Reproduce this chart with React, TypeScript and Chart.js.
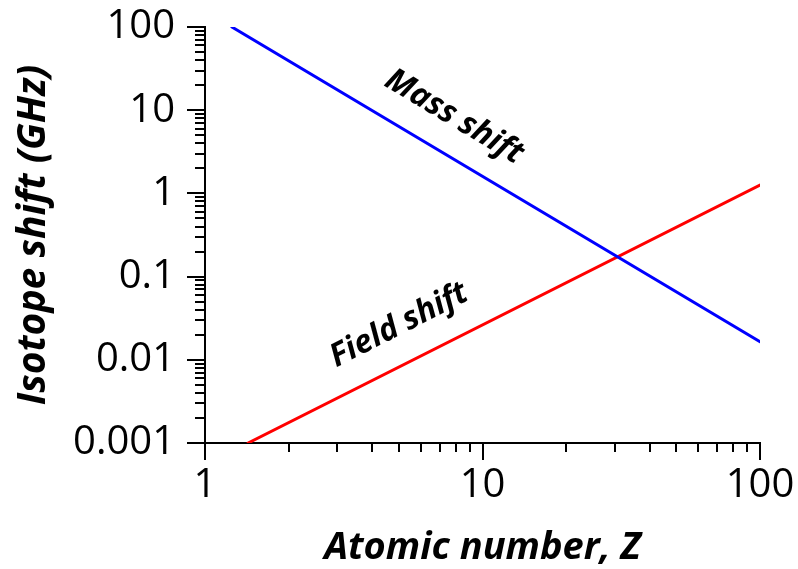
import React, { useEffect, useRef } from "react";
import { Chart, registerables } from "chart.js";

Chart.register(...registerables);

// ---- data ----
const massShiftZ = [1.25, 100];
const massShiftGHz = [100, 0.0165];
const fieldShiftZ = [1.43, 100];
const fieldShiftGHz = [0.001, 1.26];

const xTickValues = [1, 2, 3, 4, 5, 6, 7, 8, 9, 10, 20, 30, 40, 50, 60, 70, 80, 90, 100];
const xMajorTicks = [1, 10, 100];
const xTickLabels = ["1", "10", "100"];

const yTickValues = [
  0.001, 0.002, 0.003, 0.004, 0.005, 0.006, 0.007, 0.008, 0.009,
  0.01, 0.02, 0.03, 0.04, 0.05, 0.06, 0.07, 0.08, 0.09,
  0.1, 0.2, 0.3, 0.4, 0.5, 0.6, 0.7, 0.8, 0.9,
  1, 2, 3, 4, 5, 6, 7, 8, 9,
  10, 20, 30, 40, 50, 60, 70, 80, 90, 100,
];
const yMajorTicks = [0.001, 0.01, 0.1, 1, 10, 100];
const yTickLabels = ["0.001", "0.01", "0.1", "1", "10", "100"];

const annotations = [
  { text: "Mass shift", z: 7.9, ghz: 8.3, angle: 31 },
  { text: "Field shift", z: 5.0, ghz: 0.026, angle: -27 },
];

const FONT = "'Open Sans', 'Noto Sans', sans-serif";

const isMajor = (v: number, majors: number[]) => majors.some((m) => Math.abs(v / m - 1) < 1e-6);
const labelFor = (v: number, majors: number[], labels: string[]) => {
  const i = majors.findIndex((m) => Math.abs(v / m - 1) < 1e-6);
  return i >= 0 ? labels[i] : "";
};

const tickPlugin = {
  id: "customTicks",
  afterDraw(chart: any) {
    const { ctx, chartArea, scales } = chart;
    const xs = scales.x;
    const ys = scales.y;
    ctx.save();
    ctx.strokeStyle = "#000";
    ctx.lineWidth = 2;
    ctx.lineCap = "butt";
    for (const v of xTickValues) {
      const px = Math.round(xs.getPixelForValue(v));
      const len = isMajor(v, xMajorTicks) ? 17 : 9;
      ctx.beginPath();
      ctx.moveTo(px, chartArea.bottom);
      ctx.lineTo(px, chartArea.bottom + len);
      ctx.stroke();
    }
    for (const v of yTickValues) {
      const py = Math.round(ys.getPixelForValue(v));
      const len = isMajor(v, yMajorTicks) ? 18 : 10;
      ctx.beginPath();
      ctx.moveTo(chartArea.left, py);
      ctx.lineTo(chartArea.left - len, py);
      ctx.stroke();
    }
    ctx.restore();
  },
};

const annotationPlugin = {
  id: "lineLabels",
  afterDatasetsDraw(chart: any) {
    const { ctx, scales } = chart;
    ctx.save();
    ctx.fillStyle = "#000";
    ctx.font = `italic bold 32px ${FONT}`;
    ctx.textAlign = "center";
    ctx.textBaseline = "middle";
    for (const a of annotations) {
      const px = scales.x.getPixelForValue(a.z);
      const py = scales.y.getPixelForValue(a.ghz);
      ctx.save();
      ctx.translate(px, py);
      ctx.rotate((a.angle * Math.PI) / 180);
      ctx.fillText(a.text, 0, 0);
      ctx.restore();
    }
    ctx.restore();
  },
};

export default function App() {
  const ref = useRef<HTMLCanvasElement | null>(null);

  useEffect(() => {
    if (!ref.current) return;
    const chart = new Chart(ref.current, {
      type: "line",
      data: {
        datasets: [
          {
            label: "Mass shift",
            data: massShiftZ.map((z, i) => ({ x: z, y: massShiftGHz[i] })),
            borderColor: "#0000ff",
            borderWidth: 3,
            pointRadius: 0,
            borderCapStyle: "round",
          },
          {
            label: "Field shift",
            data: fieldShiftZ.map((z, i) => ({ x: z, y: fieldShiftGHz[i] })),
            borderColor: "#ff0000",
            borderWidth: 3,
            pointRadius: 0,
            borderCapStyle: "round",
          },
        ],
      },
      options: {
        animation: false,
        responsive: false,
        layout: { padding: { top: 27, right: 38, left: 0, bottom: 0 } },
        plugins: { legend: { display: false }, tooltip: { enabled: false } },
        scales: {
          x: {
            type: "logarithmic",
            min: 1,
            max: 100,
            grid: { display: false, drawTicks: false, tickLength: 0 },
            border: { display: true, color: "#000", width: 2 },
            afterBuildTicks: (scale: any) => {
              scale.ticks = xTickValues.map((v) => ({ value: v }));
            },
            afterFit: (scale: any) => {
              scale.height = 126;
              scale.paddingLeft = 0;
              scale.paddingRight = 0;
            },
            ticks: {
              autoSkip: false,
              maxRotation: 0,
              padding: 19,
              color: "#000",
              font: { family: FONT, size: 40 },
              callback: (v: any) => labelFor(Number(v), xMajorTicks, xTickLabels),
            },
            title: {
              display: true,
              text: "Atomic number, Z",
              color: "#000",
              font: { family: FONT, size: 38, weight: "bold", style: "italic", lineHeight: 1 },
              padding: { top: 0, bottom: 2 },
            },
          },
          y: {
            type: "logarithmic",
            min: 0.001,
            max: 100,
            grid: { display: false, drawTicks: false, tickLength: 0 },
            border: { display: true, color: "#000", width: 2 },
            afterBuildTicks: (scale: any) => {
              scale.ticks = yTickValues.map((v) => ({ value: v }));
            },
            afterFit: (scale: any) => {
              scale.width = 205;
              scale.paddingTop = 0;
              scale.paddingBottom = 0;
            },
            ticks: {
              autoSkip: false,
              padding: 30,
              color: "#000",
              font: { family: FONT, size: 40 },
              callback: (v: any) => labelFor(Number(v), yMajorTicks, yTickLabels),
            },
            title: {
              display: true,
              text: "Isotope shift (GHz)",
              color: "#000",
              font: { family: FONT, size: 39, weight: "bold", style: "italic", lineHeight: 1 },
              padding: { top: 14, bottom: 0 },
            },
          },
        },
      },
      plugins: [tickPlugin, annotationPlugin],
    } as any);
    return () => chart.destroy();
  }, []);

  return (
    <div style={{ position: "fixed", left: 0, top: 0, width: 798, height: 569, background: "#fff" }}>
      <canvas ref={ref} width={798} height={569} />
    </div>
  );
}
